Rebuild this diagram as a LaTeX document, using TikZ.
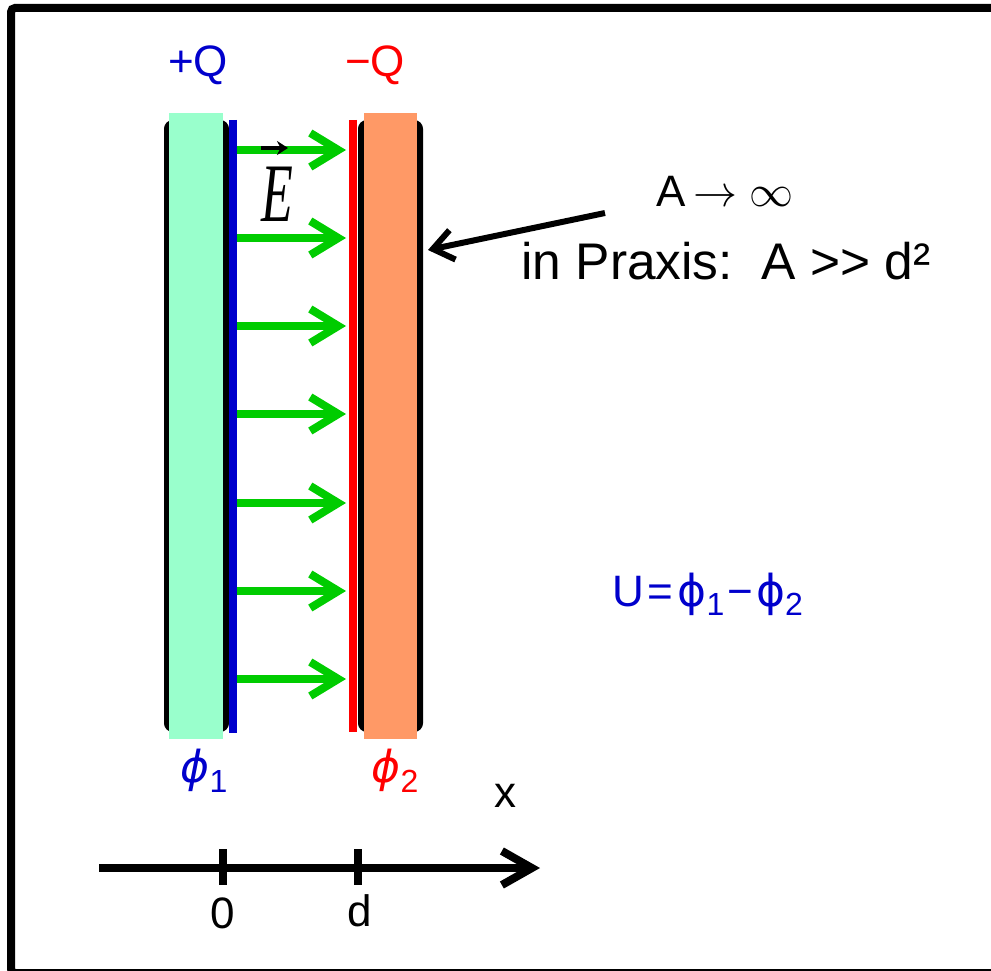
\RequirePackage{fix-cm}
\documentclass[tikz,border=0pt]{standalone}
\usepackage{fontspec}
\usepackage{graphicx}
\setmainfont{Liberation Sans}
\newfontfamily\dejavu{DejaVu Sans}
\newfontfamily\tnr{Liberation Serif}
\usetikzlibrary{arrows.meta}
\definecolor{mint}{RGB}{153,255,204}
\definecolor{peach}{RGB}{255,153,102}
\definecolor{dblue}{RGB}{0,0,204}
\definecolor{fgreen}{RGB}{0,204,0}
\newcommand\mysub[1]{\raisebox{-0.22em}{\fontsize{32}{36}\selectfont #1}}
\begin{document}
\begin{tikzpicture}[x=1pt,y=-1pt,
  txt/.style={inner sep=0pt, font=\fontsize{44}{52}\selectfont},
  bigtxt/.style={inner sep=0pt, font=\fontsize{51.5}{58}\selectfont},
  platefill/.style={inner sep=0pt, minimum width=54pt, minimum height=626pt},
  plateframe/.style={draw=black, line width=6pt, rounded corners=6pt, inner sep=0pt, minimum width=59pt, minimum height=606pt},
  fieldarrow/.style={draw=fgreen, line width=8pt, -{Straight Barb[length=28pt,width=34pt]}},
  chargeline/.style={line width=8pt},
  axisline/.style={line width=8pt, -{Straight Barb[length=30pt,width=34pt]}},
  tick/.style={line width=8pt},
  pointer/.style={line width=6pt, -{Straight Barb[length=20pt,width=30pt]}}]
\useasboundingbox (0,0) rectangle (991,971);
% outer frame
\draw[line width=8pt, rounded corners=4pt] (11,8) rectangle (1000,973);
% plates
\node[plateframe] (frame1) at (196.5,426) {};
\node[platefill, fill=mint] (plate1) at (196,426) {};
\node[plateframe] (frame2) at (390.5,426) {};
\node[platefill, fill=peach, minimum width=53pt] (plate2) at (390.5,426) {};
% charge layers
\coordinate (b0) at (233,120); \coordinate (b1) at (233,733);
\draw[chargeline, dblue] (b0) -- (b1);
\coordinate (r0) at (353,120); \coordinate (r1) at (353,732);
\draw[chargeline, red] (r0) -- (r1);
% field arrows
\foreach \yy/\nm in {150/f1,238/f2,326/f3,414/f4,503/f5,591/f6,679/f7}{
  \coordinate (\nm s) at (237,\yy);
  \coordinate (\nm e) at (346,\yy);
  \draw[fieldarrow] (\nm s) -- (\nm e);
}
% E vector
\node[inner sep=0pt] (E) at (277,194) {\scalebox{1}[1.6]{\fontsize{52}{56}\selectfont\tnr\itshape E}};
\coordinate (ev0) at (261,148); \coordinate (ev1) at (288,148);
\draw[line width=4pt, -{Stealth[length=11pt,width=14pt]}] (ev0) -- (ev1);
% charges
\node[txt, text=dblue] (pQ) at (198,65) {+Q};
\node[txt, text=red] (mQ) at (375,65) {−Q};
% potentials
\node[txt, text=dblue] (phi1) at (204,771) {{\dejavu\itshape ϕ}\mysub{1}};
\node[txt, text=red] (phi2) at (395,771) {{\dejavu\itshape ϕ}\mysub{2}};
% annotation
\node[txt, anchor=base] (ainf) at (725,207) {A\,$\rightarrow\infty$};
\node[bigtxt, anchor=base] (praxis) at (726,279) {in Praxis:\ \ A >{}> d²};
\coordinate (pa0) at (605,213); \coordinate (pa1) at (428,250);
\draw[pointer] (pa0) -- (pa1);
% voltage
\node[txt, text=dblue, anchor=base west] (U) at (612,606) {U\hspace{4pt}=\hspace{4pt}{\dejavu ϕ}\mysub{1}\hspace{3pt}−\hspace{3pt}{\dejavu ϕ}\mysub{2}};
% axis
\coordinate (ax0) at (99,868); \coordinate (ax1) at (540,868);
\draw[axisline] (ax0) -- (ax1);
\coordinate (t0a) at (223,849); \coordinate (t0b) at (223,885);
\draw[tick] (t0a) -- (t0b);
\coordinate (tda) at (358,849); \coordinate (tdb) at (358,885);
\draw[tick] (tda) -- (tdb);
\node[txt] (zero) at (223,913) {0};
\node[txt] (dlab) at (360,911) {d};
\node[txt] (xlab) at (505,796) {x};
\end{tikzpicture}
\end{document}
